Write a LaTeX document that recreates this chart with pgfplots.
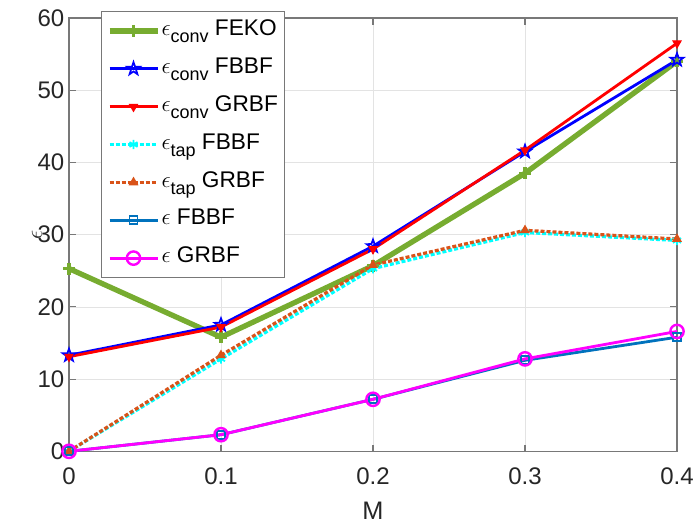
\documentclass[border=0pt]{standalone}
\usepackage{pgfplots}
\pgfplotsset{compat=1.18}
\usepackage{fontspec}
\setmainfont{Liberation Sans}
\definecolor{mgreen}{RGB}{119,172,48}
\definecolor{morange}{RGB}{217,83,25}
\definecolor{mblue}{RGB}{0,114,189}
\definecolor{mcyan}{RGB}{0,255,255}
\definecolor{mmagenta}{RGB}{255,0,255}
\definecolor{mred}{RGB}{255,0,0}
\definecolor{mbluep}{RGB}{0,0,255}
\definecolor{axgray}{RGB}{120,120,120}
\newcommand{\sub}[1]{\raisebox{-5.5pt}{\fontsize{13.5}{15}\selectfont #1}}
\pgfdeclareplotmark{pentagram}{%
  \pgfpathmoveto{\pgfpointpolar{90}{\pgfplotmarksize}}%
  \pgfpathlineto{\pgfpointpolar{126}{0.4\pgfplotmarksize}}%
  \pgfpathlineto{\pgfpointpolar{162}{\pgfplotmarksize}}%
  \pgfpathlineto{\pgfpointpolar{198}{0.4\pgfplotmarksize}}%
  \pgfpathlineto{\pgfpointpolar{234}{\pgfplotmarksize}}%
  \pgfpathlineto{\pgfpointpolar{270}{0.4\pgfplotmarksize}}%
  \pgfpathlineto{\pgfpointpolar{306}{\pgfplotmarksize}}%
  \pgfpathlineto{\pgfpointpolar{342}{0.4\pgfplotmarksize}}%
  \pgfpathlineto{\pgfpointpolar{18}{\pgfplotmarksize}}%
  \pgfpathlineto{\pgfpointpolar{54}{0.4\pgfplotmarksize}}%
  \pgfpathclose\pgfusepathqstroke}
\begin{document}
\begin{tikzpicture}
\begin{axis}[
  scale only axis,
  width=456pt, height=325pt,
  xmin=0, xmax=0.4, ymin=0, ymax=60,
  xtick={0,0.1,0.2,0.3,0.4},
  xticklabels={0,0.1,0.2,0.3,0.4},
  ytick={0,10,20,30,40,50,60},
  grid=major,
  major grid style={gray!22},
  axis line style={axgray, line width=0.8pt},
  tick style={axgray, line width=0.8pt},
  tick align=inside,
  major tick length=5pt,
  ticklabel style={font=\fontsize{18}{20}\selectfont, text=black!85},
  xticklabel style={yshift=-9pt},
  /pgf/number format/assume math mode=true,
  xlabel={M}, ylabel={$\epsilon$},
  xlabel style={font=\fontsize{19}{21}\selectfont, text=black!85, yshift=-6pt},
  ylabel style={font=\fontsize{16}{18}\selectfont, text=black!85, yshift=-10pt},
  legend style={at={(0.0526,1.016)}, anchor=north west, font=\fontsize{17}{19}\selectfont,
    draw=axgray, line width=0.8pt, row sep=7.4pt, inner sep=4pt,
    nodes={text height=13pt, text depth=6pt, inner sep=1pt}},
  legend cell align=left,
  legend image code/.code={\draw[mark repeat=2,mark phase=2] plot coordinates {(0pt,0pt) (18pt,0pt) (36pt,0pt)};},
  every axis plot/.append style={line width=2.1pt},
]
\addplot[mgreen, line width=4pt, mark=+, mark size=4.5pt, mark options={line width=2.5pt}] coordinates {(0,25.3) (0.1,15.8) (0.2,25.7) (0.3,38.5) (0.4,54.0)};
\addlegendentry{$\epsilon$\sub{conv} FEKO}
\addplot[mbluep, mark=pentagram, mark size=5pt, mark options={line width=1.3pt}] coordinates {(0,13.3) (0.1,17.5) (0.2,28.4) (0.3,41.5) (0.4,54.2)};
\addlegendentry{$\epsilon$\sub{conv} FBBF}
\addplot[mred, mark=triangle*, mark size=3.5pt, mark options={rotate=180, line width=0.8pt}] coordinates {(0,13.1) (0.1,17.2) (0.2,28.0) (0.3,41.7) (0.4,56.5)};
\addlegendentry{$\epsilon$\sub{conv} GRBF}
\addplot[mcyan, dash pattern=on 3pt off 1.5pt, line width=2.4pt, mark=asterisk, mark size=3.5pt, mark options={solid, line width=1.4pt}] coordinates {(0,0) (0.1,12.8) (0.2,25.3) (0.3,30.3) (0.4,29.2)};
\addlegendentry{$\epsilon$\sub{tap} FBBF}
\addplot[morange, dash pattern=on 3pt off 1.5pt, line width=2.4pt, mark=triangle*, mark size=3.5pt, mark options={solid, line width=0.8pt}] coordinates {(0,0) (0.1,13.3) (0.2,25.8) (0.3,30.6) (0.4,29.4)};
\addlegendentry{$\epsilon$\sub{tap} GRBF}
\addplot[mblue, mark=square, mark size=3pt, mark options={line width=1.3pt}] coordinates {(0,0) (0.1,2.3) (0.2,7.2) (0.3,12.6) (0.4,15.8)};
\addlegendentry{$\epsilon$ FBBF}
\addplot[mmagenta, mark=o, mark size=5pt, mark options={line width=1.8pt}] coordinates {(0,0) (0.1,2.3) (0.2,7.2) (0.3,12.8) (0.4,16.6)};
\addlegendentry{$\epsilon$ GRBF}
\end{axis}
\pgfresetboundingbox
\path (current axis.south west) +(-51.75pt,-54.75pt) (current axis.north east) +(14.25pt,13.5pt);
\end{tikzpicture}
\end{document}
